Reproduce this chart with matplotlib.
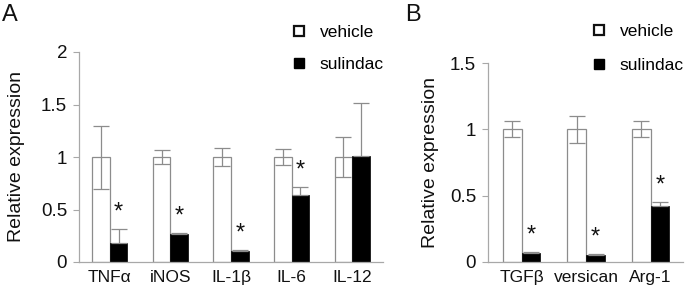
import matplotlib
matplotlib.use("Agg")
import matplotlib.pyplot as plt
import numpy as np
from matplotlib.lines import Line2D

plt.rcParams['font.family'] = ['Liberation Sans', 'DejaVu Sans']

# Panel A data
cats_a = ["TNF\u03b1", "iNOS", "IL-1\u03b2", "IL-6", "IL-12"]
veh_a = [1.0, 1.0, 1.0, 1.0, 1.0]
veh_err_a = [0.30, 0.07, 0.085, 0.08, 0.19]
sul_a = [0.18, 0.265, 0.105, 0.635, 1.01]
sul_err_a = [0.135, 0.015, 0.005, 0.075, 0.50]
sig_a = [True, True, True, True, False]

# Panel B data
cats_b = ["TGF\u03b2", "versican", "Arg-1"]
veh_b = [1.0, 1.0, 1.0]
veh_err_b = [0.06, 0.10, 0.06]
sul_b = [0.07, 0.055, 0.425]
sul_err_b = [0.005, 0.008, 0.025]
sig_b = [True, True, True]

GRAY = "#8c8c8c"
SPINE = "#a8a8a8"
TXT = "#111111"
W = 0.29

fig = plt.figure(figsize=(6.85, 2.86), dpi=100)
axA = fig.add_axes([79/685, 1-262/286, (383-79)/685, (262-52)/286])
axB = fig.add_axes([488/685, 1-262/286, (683-488)/685, (262-63)/286])


def draw(ax, cats, veh, veh_err, sul, sul_err, sig, ymax, yticks, yticklabels, xlim):
    x = np.arange(len(cats))
    ax.bar(x - W/2, veh, W, color="white", edgecolor=GRAY, linewidth=0.9, zorder=2)
    ax.errorbar(x - W/2, veh, yerr=veh_err, fmt="none", ecolor=GRAY, elinewidth=0.9,
                capsize=5.5, capthick=0.9, zorder=3)
    ax.bar(x + W/2, sul, W, color="black", edgecolor="black", linewidth=0.5, zorder=2)
    ax.errorbar(x + W/2, sul, yerr=[np.zeros(len(sul)), sul_err], fmt="none", ecolor=GRAY,
                elinewidth=0.9, capsize=5.5, capthick=0.9, zorder=3)
    for xi, s, e, g in zip(x, sul, sul_err, sig):
        if g:
            ax.annotate("*", (xi + W/2, s + e), xytext=(0, 4), textcoords="offset points",
                        ha="center", va="bottom", fontsize=17, color=TXT)
    ax.set_xlim(*xlim)
    ax.set_ylim(0, ymax)
    ax.set_xticks(x)
    ax.set_xticklabels(cats, fontsize=12.5, color=TXT)
    ax.tick_params(axis="x", length=0, pad=6)
    ax.set_yticks(yticks)
    ax.set_yticklabels(yticklabels, fontsize=13.5, color=TXT)
    ax.tick_params(axis="y", direction="out", length=4, width=0.8, color=SPINE, pad=4.5)
    for sp in ["top", "right"]:
        ax.spines[sp].set_visible(False)
    for sp in ["left", "bottom"]:
        ax.spines[sp].set_color(SPINE)
        ax.spines[sp].set_linewidth(0.9)
    ax.set_ylabel("Relative expression", fontsize=14, color=TXT)


draw(axA, cats_a, veh_a, veh_err_a, sul_a, sul_err_a, sig_a, 2.0,
     [0, 0.5, 1, 1.5, 2], ["0", "0.5", "1", "1.5", "2"], (-0.51, 4.51))
draw(axB, cats_b, veh_b, veh_err_b, sul_b, sul_err_b, sig_b, 1.5,
     [0, 0.5, 1, 1.5], ["0", "0.5", "1", "1.5"], (-0.52, 2.5))

axA.yaxis.set_label_coords(-0.178, 0.5)
axB.yaxis.set_label_coords(-0.251, 0.5)

handles = [
    Line2D([], [], marker="s", linestyle="none", markersize=7.5, markerfacecolor="white",
           markeredgecolor=TXT, markeredgewidth=1.6, label="vehicle"),
    Line2D([], [], marker="s", linestyle="none", markersize=7.5, markerfacecolor="black",
           markeredgecolor="black", label="sulindac"),
]
for ax, (lx, ly, sp) in [(axA, (292/685, 1-25/286, 0.95)), (axB, (592/685, 1-24/286, 1.1))]:
    ax.legend(handles=handles, loc="upper left", bbox_to_anchor=(lx, ly),
              bbox_transform=fig.transFigure, frameon=False, fontsize=12.5,
              handlelength=0.8, handletextpad=0.8, labelspacing=sp,
              borderpad=0, borderaxespad=0)

fig.text(2/685, 1-4/286, "A", fontsize=17, ha="left", va="top", color=TXT)
fig.text(405/685, 1-4/286, "B", fontsize=17, ha="left", va="top", color=TXT)

fig.savefig("out.png", dpi=100)
